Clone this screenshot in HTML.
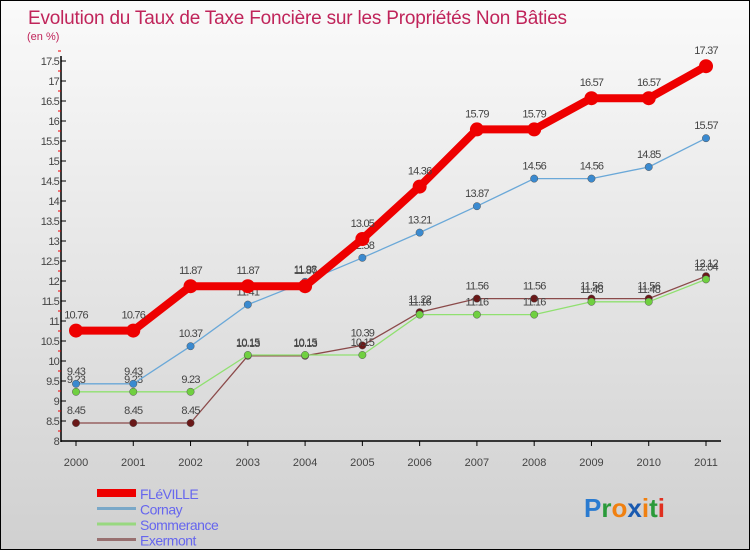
<!DOCTYPE html>
<html><head><meta charset="utf-8">
<style>
html,body{margin:0;padding:0}
body{width:750px;height:550px;overflow:hidden;font-family:"Liberation Sans",sans-serif}
#wrap{position:relative;width:748px;height:548px;border:1px solid #000;background:linear-gradient(#fafafa,#d0d0d0)}
svg{position:absolute;left:0;top:0}
</style></head><body>
<div id="wrap">
<svg id="chart" width="750" height="550">
<text x="27" y="23" font-size="19" fill="#c0245a" letter-spacing="-0.2">Evolution du Taux de Taxe Foncière sur les Propriétés Non Bâties</text>
<text x="26" y="39" font-size="11" fill="#c0245a">(en %)</text>
<g id="axes"></g>
<g id="series"></g>
<g id="legend"></g>
<text x="583" y="516" font-size="26" font-weight="bold"><tspan fill="#2a7bd0">P</tspan><tspan fill="#2a9a3a">r</tspan><tspan fill="#f08010">o</tspan><tspan fill="#1a5ab0">x</tspan><tspan fill="#f08010">i</tspan><tspan fill="#2a9a3a">t</tspan><tspan fill="#e03020">i</tspan></text>
</svg>
</div>
<script>
const years = ["2000","2001","2002","2003","2004","2005","2006","2007","2008","2009","2010","2011"];
const fleville = [10.76,10.76,11.87,11.87,11.87,13.05,14.36,15.79,15.79,16.57,16.57,17.37];
const cornay = [9.43,9.43,10.37,11.41,11.98,12.58,13.21,13.87,14.56,14.56,14.85,15.57];
const sommerance = [9.23,9.23,9.23,10.15,10.15,10.15,11.16,11.16,11.16,11.48,11.48,12.04];
const exermont = [8.45,8.45,8.45,10.13,10.13,10.39,11.22,11.56,11.56,11.56,11.56,12.12];
const yTicks = [8,8.5,9,9.5,10,10.5,11,11.5,12,12.5,13,13.5,14,14.5,15,15.5,16,16.5,17,17.5];
const seriesNames = ["FLéVILLE","Cornay","Sommerance","Exermont"];

const NS="http://www.w3.org/2000/svg";
function X(i){return 75+i*(630/11);}
function Y(v){return 440-(v-8)*40;}
function mk(tag,attrs,parent){const e=document.createElementNS(NS,tag);for(const k in attrs)e.setAttribute(k,attrs[k]);parent.appendChild(e);return e;}
const axes=document.getElementById('axes');
let a=mk('line',{x1:60,y1:55,x2:60,y2:441,stroke:'#000','stroke-width':1.5},axes);


a=mk('line',{x1:60,y1:440,x2:720,y2:440,stroke:'#000','stroke-width':1.5},axes);


yTicks.forEach(v=>{
  const y=Y(v);
  mk('line',{x1:60,y1:y,x2:65,y2:y,stroke:'#000'},axes);
  mk('line',{x1:57,y1:y-10,x2:60,y2:y-10,stroke:'#e00'},axes);
  const t=mk('text',{x:58,y:y+4,'font-size':11,fill:'#444','text-anchor':'end','letter-spacing':'-0.8'},axes);
  t.textContent=String(v);
  
  
});
years.forEach((yr,i)=>{
  const x=X(i);
  mk('line',{x1:x,y1:440,x2:x,y2:445,stroke:'#000'},axes);
  const t=mk('text',{x:x,y:465,'font-size':11,fill:'#444','text-anchor':'middle'},axes);
  t.textContent=yr;
  
  
});
const sg=document.getElementById('series');
function draw(data,color,w,r,dot,name){
  const g=mk('g',{},sg);
  
  
  const p=mk('polyline',{points:data.map((v,i)=>X(i)+','+Y(v)).join(' '),fill:'none',stroke:color,'stroke-width':w,'stroke-linejoin':'round'},g);
  
  
  data.forEach((v,i)=>{
    const c=mk('circle',{cx:X(i),cy:Y(v),r:r,fill:dot,stroke:r>4?'none':'#555','stroke-width':0.5},g);
    
    
    const t=mk('text',{x:X(i),y:Y(v)-(r>4?12:9),'font-size':11,fill:'#444','text-anchor':'middle','letter-spacing':'-0.8'},g);
    t.textContent=String(v);
    
    
  });
}
draw(exermont,'#8b4a4a',1.3,3.7,'#6a1818','exermont');
draw(sommerance,'#90e070',1.3,3.7,'#70d040','sommerance');
draw(cornay,'#6aa8d8',1.3,3.7,'#3a8ad0','cornay');
draw(fleville,'#ee0000',8,7,'#ee0000','fleville');
const lg=document.getElementById('legend');
const lc=['#ee0000','#7aa8c8','#98d880','#987070'];
const lw=[8,3,3,3];
seriesNames.forEach((n,i)=>{
  const y=492+i*15.5;
  const l=mk('line',{x1:96,y1:y,x2:135,y2:y,stroke:lc[i],'stroke-width':lw[i]},lg);
  
  
  const t=mk('text',{x:139,y:y+6,'font-size':14,fill:'#6666ee','letter-spacing':'-0.5'},lg);
  t.textContent=n;
  
  
});
</script>
</body></html>
